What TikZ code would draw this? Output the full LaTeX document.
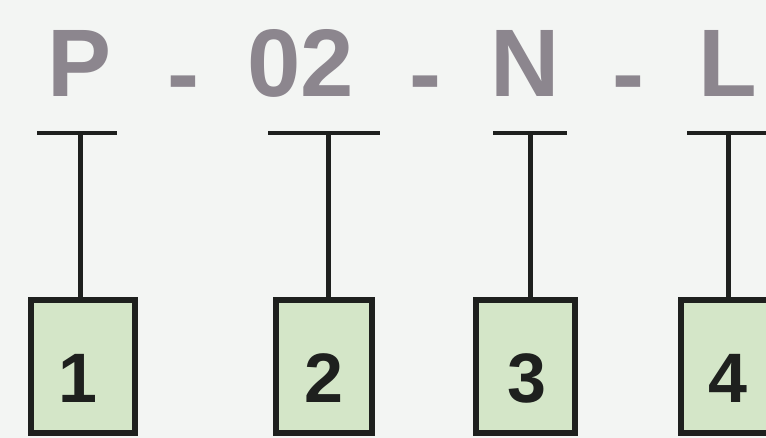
\documentclass[tikz,border=0pt]{standalone}
\usepackage{fontspec}
\setmainfont{Liberation Sans}
\definecolor{paper}{RGB}{243,245,243}
\definecolor{codegray}{RGB}{140,134,142}
\definecolor{boxgreen}{RGB}{212,230,200}
\definecolor{boxline}{RGB}{30,32,30}
\begin{document}
\begin{tikzpicture}[x=1pt,y=-1pt,
    codetext/.style={text=codegray,font=\fontsize{96}{96}\selectfont\bfseries,inner sep=0pt,anchor=base},
    numbox/.style={draw=boxline,line width=6pt,fill=boxgreen,minimum height=133pt,inner sep=0pt},
    numtext/.style={text=boxline,font=\fontsize{70}{70}\selectfont\bfseries,inner sep=0pt},
    bar/.style={draw=boxline,line width=4pt},
    stem/.style={draw=boxline,line width=5pt}]
    % Background and frame
    \useasboundingbox (0,0) rectangle (766,438);
    \fill[paper] (0,0) rectangle (766,438);
    \clip (0,0) rectangle (766,438);

    % Define code parts
    \node[codetext] (codeP) at (80,97) {P};
    \node[codetext] (dash1) at (183,107) {-};
    \node[codetext] (code02) at (301,97) {02};
    \node[codetext] (dash2) at (425,107) {-};
    \node[codetext] (codeN) at (525,97) {N};
    \node[codetext] (dash3) at (628,107) {-};
    \node[codetext] (codeL) at (728,97) {L};

    % Bars under the code parts
    \coordinate (bar1) at (80,133);
    \coordinate (bar2) at (328,133);
    \coordinate (bar3) at (530,133);
    \coordinate (bar4) at (728,133);
    \draw[bar] (37,133) -- (117,133);
    \draw[bar] (268,133) -- (380,133);
    \draw[bar] (493,133) -- (567,133);
    \draw[bar] (687,133) -- (800,133);

    % Numbered boxes
    \node[numbox,minimum width=104pt] (box1) at (83,366.5) {};
    \node[numbox,minimum width=96pt] (box2) at (324,366.5) {};
    \node[numbox,minimum width=99pt] (box3) at (525.5,366.5) {};
    \node[numbox,minimum width=100pt] (box4) at (731,366.5) {};
    \node[numtext] (num1) at (78,378) {1};
    \node[numtext] (num2) at (324,378) {2};
    \node[numtext] (num3) at (527,378) {3};
    \node[numtext] (num4) at (728,378) {4};

    % Draw stems
    \draw[stem] (bar1) -- (bar1 |- box1.north);
    \draw[stem] (bar2) -- (bar2 |- box2.north);
    \draw[stem] (bar3) -- (bar3 |- box3.north);
    \draw[stem] (bar4) -- (bar4 |- box4.north);
\end{tikzpicture}
\end{document}
